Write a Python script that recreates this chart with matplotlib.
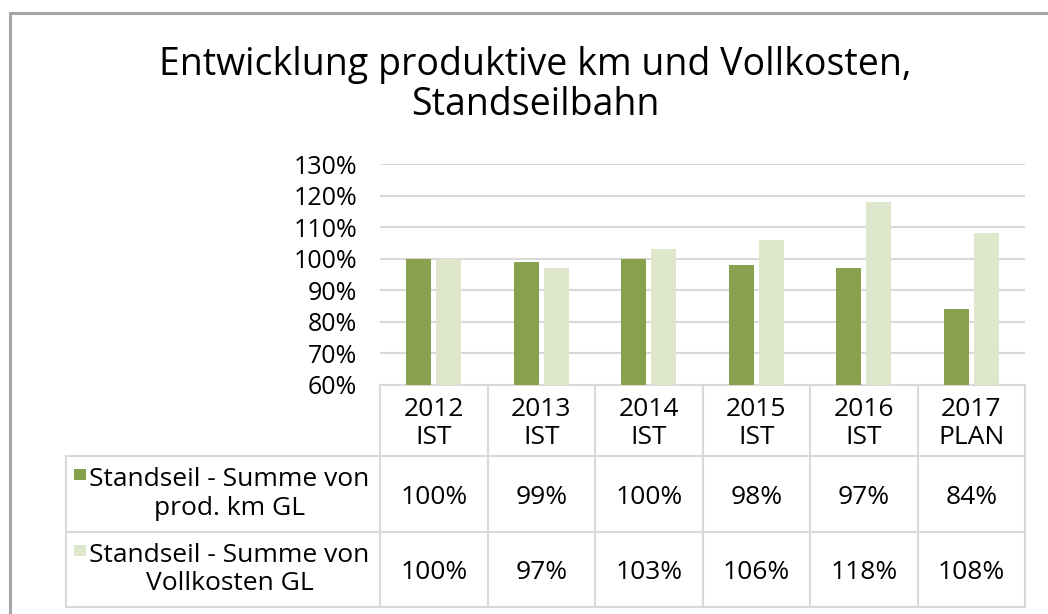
import matplotlib
matplotlib.use("Agg")
import matplotlib.pyplot as plt
from matplotlib.patches import Rectangle
import numpy as np

plt.rcParams['font.family'] = ['Open Sans', 'DejaVu Sans']

# data
years = ["2012\nIST", "2013\nIST", "2014\nIST", "2015\nIST", "2016\nIST", "2017\nPLAN"]
prod_km = [100, 99, 100, 98, 97, 84]
vollkosten = [100, 97, 103, 106, 118, 108]
series_names = ["Standseil - Summe von\nprod. km GL", "Standseil - Summe von\nVollkosten GL"]
colors = ["#88a14e", "#dee7cb"]
grid_col = "#d9d9d9"

W, H = 1048, 614
fig = plt.figure(figsize=(W / 100, H / 100), dpi=100)


def fx(x):
    return x / W


def fy(y):
    return 1 - y / H


# outer frame (only left/top visible in the crop)
fig.patches.append(Rectangle((fx(9.5), fy(700)), fx(1100), fy(12.5) - fy(700),
                             transform=fig.transFigure, fill=False,
                             edgecolor="#a6a6a6", lw=2.2))

fig.text(fx(535), fy(85), "Entwicklung produktive km und Vollkosten,\nStandseilbahn",
         ha="center", va="center", fontsize=27, linespacing=1.08)

# bar area
left, right, top, bottom = 380, 1025, 164, 385
ax = fig.add_axes([fx(left), fy(bottom), fx(right - left), fy(top) - fy(bottom)])
x = np.arange(len(years))
w = 0.23
ax.bar(x - 0.14, prod_km, w, color=colors[0], zorder=3)
ax.bar(x + 0.14, vollkosten, w, color=colors[1], zorder=3)
ax.set_xlim(-0.5, len(years) - 0.5)
ax.set_ylim(60, 130)
ax.set_yticks(range(60, 131, 10))
ax.set_yticklabels([f"{v}%" for v in range(60, 131, 10)], fontsize=18)
ax.yaxis.grid(True, color=grid_col, lw=1.5, zorder=0)
ax.tick_params(axis="y", length=0, pad=16.5)
ax.set_xticks([])
for s in ["top", "right", "left"]:
    ax.spines[s].set_visible(False)
ax.spines["bottom"].set_color(grid_col)
ax.spines["bottom"].set_linewidth(1.5)

# data table below the bars
row_y = [385, 456, 532, 607]
cat_w = (right - left) / len(years)
col_x = [left + i * cat_w for i in range(len(years) + 1)]
lab_left = 66
line_kw = dict(color=grid_col, lw=1.5, transform=fig.transFigure)
for cx in col_x:
    fig.add_artist(plt.Line2D([fx(cx), fx(cx)], [fy(row_y[0]), fy(row_y[3])], **line_kw))
fig.add_artist(plt.Line2D([fx(lab_left), fx(lab_left)], [fy(row_y[1]), fy(row_y[3])], **line_kw))
for ry in row_y[1:]:
    fig.add_artist(plt.Line2D([fx(lab_left), fx(right)], [fy(ry), fy(ry)], **line_kw))

for i, lab in enumerate(years):
    cx = left + (i + 0.5) * cat_w
    fig.text(fx(cx), fy((row_y[0] + row_y[1]) / 2 + 3), lab, ha="center", va="center",
             fontsize=19, linespacing=1.2)

for r, (name, vals) in enumerate(zip(series_names, [prod_km, vollkosten])):
    y0, y1 = row_y[r + 1], row_y[r + 2]
    ym = (y0 + y1) / 2
    fig.patches.append(Rectangle((fx(74), fy(y0 + 24)), fx(11.5), fy(y0 + 13) - fy(y0 + 24),
                                 transform=fig.transFigure, color=colors[r], lw=0))
    fig.text(fx(229.5), fy(ym), name, ha="center", va="center", multialignment="center",
             fontsize=19, linespacing=1.2)
    for i, v in enumerate(vals):
        cx = left + (i + 0.5) * cat_w
        fig.text(fx(cx), fy(ym + 3), f"{v}%", ha="center", va="center", fontsize=19)

fig.savefig("out.png", dpi=100)
